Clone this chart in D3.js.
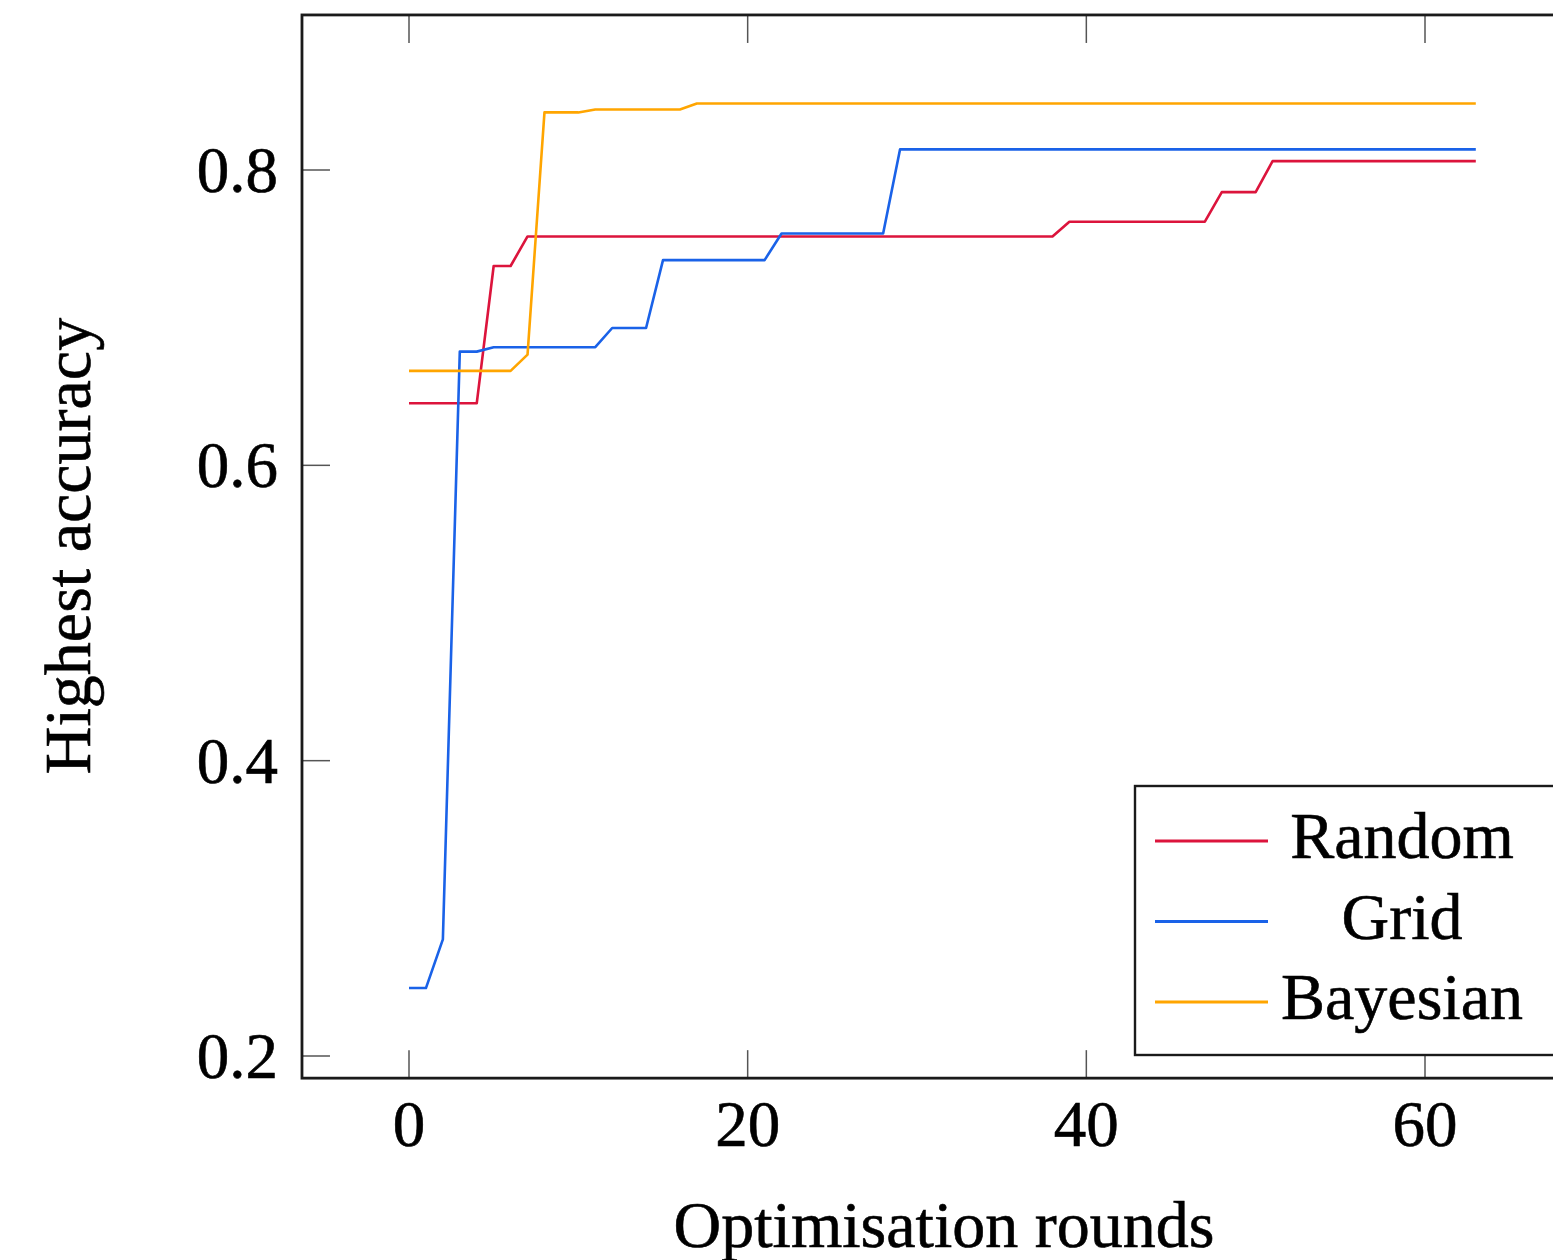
<!DOCTYPE html>
<html>
<head>
<meta charset="utf-8">
<script src="https://cdn.jsdelivr.net/npm/d3@7"></script>
<style>
  html, body { margin: 0; padding: 0; background: #fff; overflow: hidden; }
  svg { display: block; }
  text { stroke: #000; stroke-width: 0.6px; }
</style>
</head>
<body>
<script>
const width = 1553;
const height = 1260;

// optimisation rounds 0..63
const rounds = d3.range(0, 64);

const randomAcc = [
  0.642, 0.642, 0.642, 0.642, 0.642, 0.735, 0.735, 0.755,
  0.755, 0.755, 0.755, 0.755, 0.755, 0.755, 0.755, 0.755,
  0.755, 0.755, 0.755, 0.755, 0.755, 0.755, 0.755, 0.755,
  0.755, 0.755, 0.755, 0.755, 0.755, 0.755, 0.755, 0.755,
  0.755, 0.755, 0.755, 0.755, 0.755, 0.755, 0.755, 0.765,
  0.765, 0.765, 0.765, 0.765, 0.765, 0.765, 0.765, 0.765,
  0.785, 0.785, 0.785, 0.806, 0.806, 0.806, 0.806, 0.806,
  0.806, 0.806, 0.806, 0.806, 0.806, 0.806, 0.806, 0.806
];

const gridAcc = [
  0.246, 0.246, 0.279, 0.677, 0.677, 0.680, 0.680, 0.680,
  0.680, 0.680, 0.680, 0.680, 0.693, 0.693, 0.693, 0.739,
  0.739, 0.739, 0.739, 0.739, 0.739, 0.739, 0.757, 0.757,
  0.757, 0.757, 0.757, 0.757, 0.757, 0.814, 0.814, 0.814,
  0.814, 0.814, 0.814, 0.814, 0.814, 0.814, 0.814, 0.814,
  0.814, 0.814, 0.814, 0.814, 0.814, 0.814, 0.814, 0.814,
  0.814, 0.814, 0.814, 0.814, 0.814, 0.814, 0.814, 0.814,
  0.814, 0.814, 0.814, 0.814, 0.814, 0.814, 0.814, 0.814
];

const bayesAcc = [
  0.664, 0.664, 0.664, 0.664, 0.664, 0.664, 0.664, 0.675,
  0.839, 0.839, 0.839, 0.841, 0.841, 0.841, 0.841, 0.841,
  0.841, 0.845, 0.845, 0.845, 0.845, 0.845, 0.845, 0.845,
  0.845, 0.845, 0.845, 0.845, 0.845, 0.845, 0.845, 0.845,
  0.845, 0.845, 0.845, 0.845, 0.845, 0.845, 0.845, 0.845,
  0.845, 0.845, 0.845, 0.845, 0.845, 0.845, 0.845, 0.845,
  0.845, 0.845, 0.845, 0.845, 0.845, 0.845, 0.845, 0.845,
  0.845, 0.845, 0.845, 0.845, 0.845, 0.845, 0.845, 0.845
];

const seriesNames = ["Random", "Grid", "Bayesian"];
const seriesColors = ["#dc143c", "#1a62e8", "#ffa500"];
const xTicks = [0, 20, 40, 60];
const yTicks = [0.2, 0.4, 0.6, 0.8];

const font = "'Liberation Serif', 'Times New Roman', serif";

document.addEventListener("DOMContentLoaded", () => {
  const svg = d3
    .select("body")
    .append("svg")
    .attr("width", width)
    .attr("height", height)
    .attr("viewBox", [0, 0, width, height]);

  const x = d3.scaleLinear().domain([0, 60]).range([409, 1425]);
  const y = d3.scaleLinear().domain([0.2, 0.8]).range([1056, 170]);

  // axis box (runs off the right edge like the reference)
  const x0 = x(-6.32), x1 = x(70);
  const yTop = y(0.905), yBot = y(0.185);

  const tickLen = 28;
  const ticks = svg.append("g").attr("stroke", "#555").attr("stroke-width", 1.5);

  xTicks.forEach((t) => {
    ticks.append("line").attr("x1", x(t)).attr("x2", x(t)).attr("y1", yBot).attr("y2", yBot - tickLen);
    ticks.append("line").attr("x1", x(t)).attr("x2", x(t)).attr("y1", yTop).attr("y2", yTop + tickLen);
  });
  yTicks.forEach((t) => {
    ticks.append("line").attr("x1", x0).attr("x2", x0 + tickLen).attr("y1", y(t)).attr("y2", y(t));
  });

  // series lines
  const allSeries = [randomAcc, gridAcc, bayesAcc];
  const line = d3
    .line()
    .x((d, i) => x(rounds[i]))
    .y((d) => y(d));

  const plot = svg.append("g");
  allSeries.forEach((vals, k) => {
    plot
      .append("path")
      .datum(vals)
      .attr("fill", "none")
      .attr("stroke", seriesColors[k])
      .attr("stroke-width", 2.6)
      .attr("stroke-linejoin", "round")
      .attr("d", line);
  });

  svg
    .append("rect")
    .attr("x", x0)
    .attr("y", yTop)
    .attr("width", x1 - x0)
    .attr("height", yBot - yTop)
    .attr("fill", "none")
    .attr("stroke", "#1a1a1a")
    .attr("stroke-width", 2.8);

  // tick labels
  svg
    .append("g")
    .selectAll("text")
    .data(yTicks)
    .join("text")
    .attr("x", 278)
    .attr("y", (d) => y(d) + 22)
    .attr("text-anchor", "end")
    .attr("font-family", font)
    .attr("font-size", 65)
    .text((d) => d3.format(".1f")(d));

  svg
    .append("g")
    .selectAll("text")
    .data(xTicks)
    .join("text")
    .attr("x", (d) => x(d))
    .attr("y", 1146)
    .attr("text-anchor", "middle")
    .attr("font-family", font)
    .attr("font-size", 65)
    .text((d) => d);

  // axis titles
  svg
    .append("text")
    .attr("x", 944)
    .attr("y", 1247)
    .attr("text-anchor", "middle")
    .attr("font-family", font)
    .attr("font-size", 66)
    .text("Optimisation rounds");

  svg
    .append("text")
    .attr("transform", "translate(90,546) rotate(-90)")
    .attr("text-anchor", "middle")
    .attr("font-family", font)
    .attr("font-size", 66)
    .text("Highest accuracy");

  // legend
  const legend = svg.append("g");
  legend
    .append("rect")
    .attr("x", 1135)
    .attr("y", 786)
    .attr("width", 500)
    .attr("height", 269)
    .attr("fill", "#fff")
    .attr("stroke", "#1a1a1a")
    .attr("stroke-width", 2.4);

  const items = legend
    .selectAll(".legend-item")
    .data(seriesNames)
    .join("g")
    .attr("class", "legend-item")
    .attr("transform", (d, i) => `translate(0,${841 + i * 80.5})`);

  items
    .append("line")
    .attr("x1", 1155)
    .attr("x2", 1268)
    .attr("stroke", (d, i) => seriesColors[i])
    .attr("stroke-width", 2.8);

  items
    .append("text")
    .attr("x", 1402)
    .attr("y", 17)
    .attr("text-anchor", "middle")
    .attr("font-family", font)
    .attr("font-size", 66)
    .text((d) => d);
});
</script>
</body>
</html>
